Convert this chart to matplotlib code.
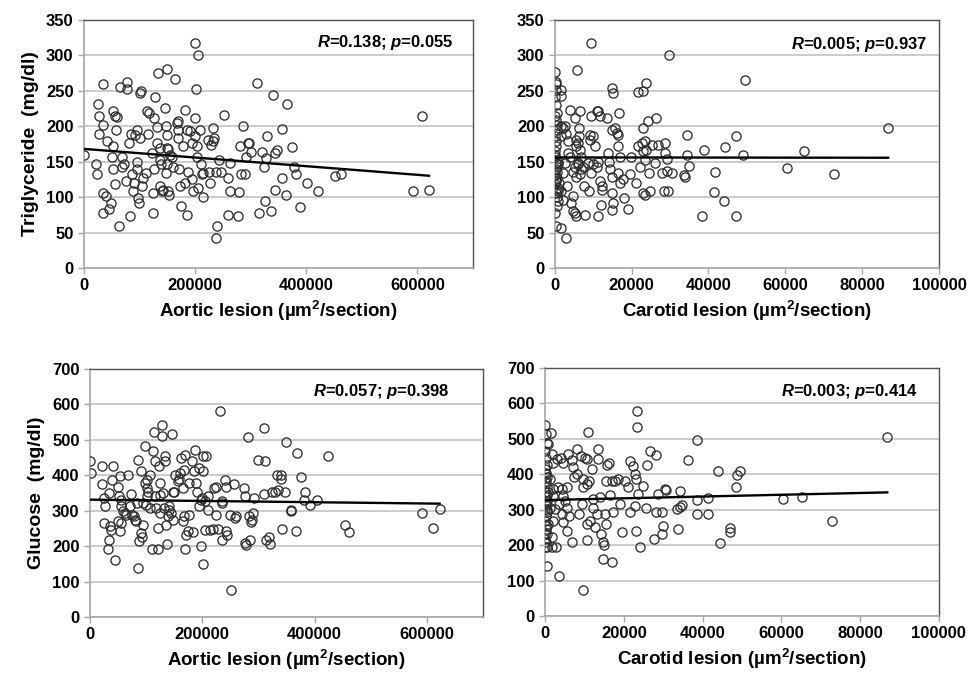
import numpy as np
import matplotlib
matplotlib.use("Agg")
import matplotlib.pyplot as plt

plt.rcParams["font.family"] = ["Liberation Sans", "DejaVu Sans"]
plt.rcParams["font.weight"] = "bold"
plt.rcParams["mathtext.fontset"] = "custom"
plt.rcParams["mathtext.rm"] = "Liberation Sans:bold"
plt.rcParams["mathtext.bf"] = "Liberation Sans:bold"
plt.rcParams["mathtext.it"] = "Liberation Sans:italic:bold"

# Triglyceride vs aortic lesion (x in 1000 um2/section)
tg_aortic_x = [0, 21.6, 24, 25.8, 27.6, 33.6, 34.8, 27, 40.8, 33.6, 39, 33.6, 45.6, 48, 51.6, 49.8, 52.8,
               51.6, 55.8, 60, 57.6, 63.6, 55.8, 64.8, 67.8, 67.8, 72, 75.6, 76.8, 78, 81.6, 82.8, 84, 85.8,
               88.8, 90, 94.8, 94.8, 97.8, 99.6, 100.8, 102, 91.8, 96, 100.8, 103.8, 106.8, 111.6, 114, 117.6,
               115.8, 121.8, 124.2, 124.2, 126.6, 128.4, 125.4, 130.8, 132, 133.8, 136.8, 136.8, 138, 136.8,
               139.8, 142.8, 145.8, 147.6, 148.8, 148.8, 150, 147.6, 150, 151.8, 153.6, 151.8, 154.8, 157.8,
               160.8, 163.8, 166.8, 169.8, 169.8, 169.8, 171.6, 172.8, 174, 178.8, 181.8, 181.8, 184.8, 186,
               187.8, 190.8, 193.8, 193.8, 196.8, 199.8, 199.8, 199.8, 201.6, 202.8, 205.8, 204, 205.8, 208.8,
               210, 211.8, 213.6, 214.8, 223.2, 225.6, 226.8, 228.6, 231.6, 232.8, 234.6, 237.6, 238.8, 237.6,
               243.6, 246.6, 252.6, 258.6, 258.6, 262.8, 262.8, 277.2, 279, 280.8, 285.6, 283.2, 289.2, 292.2,
               295.2, 297, 301.2, 312, 315.6, 319.8, 324, 325.8, 330, 336, 339.6, 343.8, 343.8, 365.8, 355.6,
               347.8, 374.8, 328, 378.4, 382, 356.8, 364, 401.8, 421.6, 388, 451.6, 461.8, 609, 592.2, 621]
tg_aortic_y = [160, 147, 132, 231, 215, 259, 202, 189, 179, 106, 102, 77, 83, 91, 172, 157, 140,
               222, 214, 213, 195, 59, 118, 256, 157, 143, 146, 122, 263, 252, 177, 73, 189, 132,
               108, 120, 150, 140, 99, 92, 247, 249, 188, 195, 183, 115, 127, 134, 221, 219,
               189, 162, 77, 106, 139, 241, 212, 176, 199, 275, 169, 153, 146, 115,
               108, 110, 226, 200, 187, 169, 280, 134, 146, 108, 103, 168, 160, 157,
               143, 266, 204, 207, 195, 183, 139, 115, 88, 172, 223, 120, 195, 75,
               135, 193, 176, 125, 108, 212, 317, 186, 252, 172, 301, 157, 113, 195,
               146, 133, 100, 134, 181, 135, 120, 174, 197, 179, 183, 135, 59, 42,
               153, 136, 216, 127, 75, 148, 108, 73, 107, 172, 200, 132, 133, 157,
               177, 176, 164, 261, 78, 164, 143, 94, 186, 80, 244, 110, 162, 232, 196,
               166, 171, 155, 143, 133, 127, 103, 120, 108, 86, 130, 133, 214, 108, 110]

# Triglyceride vs carotid lesion (x in 1000 um2/section)
tg_carotid_x = [0, 0.2, 0.4, 0.1, 0.3, 0.5, 0, 0.2, 0.6, 0.1, 0.4, 0, 0.3, 0.5, 0.2, 0, 0.6, 0.3, 0.1,
                0.4, 0.8, 0.2, 0.5, 0, 0.3, 0.7, 0.1, 0.4, 0.6, 0.2, 0.9, 0.3, 0.6, 0.8, 0.1, 0.5, 0.7, 1.0,
                1.7, 1.7, 1.7, 3.0, 1.5, 2.2, 2.6, 1.7, 3.0, 3.9, 3.5, 3.5, 2.6, 3.9, 2.2, 3.2, 1.7, 2.2,
                4.8, 4.3, 4.6, 5.2, 5.5, 5.8, 5.2, 6.5, 6.3, 5.5, 6.1, 6.5, 6.3, 5.6, 5.2, 6.1, 4.8, 5.6,
                6.5, 6.9, 7.4, 6.9, 6.1, 7.6, 7.8, 8.9, 9.3, 9.5, 9.1, 9.1, 10.0, 8.7, 9.5, 10.0, 10.4,
                10.9, 11.3, 11.7, 10.9, 11.3, 11.7, 12.2, 12.4, 11.9, 11.3, 13.5, 13.9, 14.2, 14.3, 14.8,
                14.8, 15.2, 15.0, 14.8, 15.2, 15.0, 15.6, 16.1, 16.5, 16.8, 16.5, 16.9, 16.5, 16.9, 17.8,
                18.0, 19.1, 19.5, 19.9, 21.1, 21.7, 23.0, 23.7, 23.0, 24.3, 26.3, 21.7, 22.6, 23.4, 23.0,
                23.8, 22.1, 23.4, 24.6, 23.0, 23.4, 24.7, 25.2, 26.1, 26.9, 28.7, 27.8, 28.7,
                29.8, 49.5, 86.8, 29.2, 34.5, 34.5, 34.9, 33.6, 33.8, 30.6, 29.3, 28.4, 29.5, 38.8, 41.6,
                41.4, 44.0, 38.4, 47.1, 44.3, 47.1, 49.0, 60.4, 64.9, 72.8]
tg_carotid_y = [276, 263, 259, 241, 230, 219, 215, 209, 194, 186, 172, 157, 148, 143, 139, 132, 127, 122, 118,
                110, 108, 106, 87, 77, 59, 146, 160, 179, 202, 251, 113, 125, 135, 150, 165, 100, 95, 120,
                251, 243, 56, 42, 200, 197, 200, 186, 189, 223, 179, 162, 148, 157, 134, 116, 108, 96,
                101, 92, 80, 78, 74, 279, 212, 221, 197, 181, 176, 167, 186, 172, 143, 148, 136, 129,
                132, 139, 143, 157, 146, 115, 75, 108, 317, 214, 181, 188, 186, 148, 134, 146, 172,
                221, 221, 215, 143, 150, 122, 115, 110, 89, 73, 212, 162, 150, 139, 129,
                106, 92, 82, 254, 247, 195, 197, 190, 188, 219, 172, 157, 134, 120, 125,
                99, 83, 132, 157, 120, 248, 249, 261, 197, 207, 212, 172, 176, 179, 165,
                167, 143, 153, 134, 106, 103, 108, 174, 148, 174, 176, 134, 162,
                300, 265, 197, 154, 188, 159, 144, 131, 128, 134, 137, 109, 109, 166, 136,
                107, 95, 73, 73, 171, 186, 160, 141, 165, 132]

# Glucose vs aortic lesion (x in 1000 um2/section)
glu_aortic_x = [0, 1.2, 20.6, 20.6, 24.8, 26.5, 24.8, 34.2, 32.5, 35.4, 36.6, 40.1, 38.3, 34.2, 44.3, 50.2,
                51.9, 53.1, 54.3, 56, 56, 50.2, 56, 59, 62, 64.9, 67.9, 70.8, 73.8, 75.5, 77.9, 79.7, 81.4,
                84, 85.6, 85.6, 87.3, 90.1, 90.1, 93.2, 94.4, 94.4, 97.4, 97.4, 99.1, 101.5, 101.5, 103.3,
                101.5, 106.2, 107.4, 110.9, 112.1, 113.3, 115.1, 115.1, 118, 120.9, 120.9, 122.7, 123.9,
                123.9, 125.1, 127.5, 127.5, 129.8, 131, 133.7, 134.5, 135.7, 136.9, 138.7, 140.4, 141.6,
                144.6, 146.3, 147.5, 148.7, 150.4, 152.2, 156.4, 158.2, 160.5, 162.3, 165.2, 166.4, 168.2,
                168.2, 170.1, 170.1, 171.1, 173.9, 175.8, 177, 181.7, 184.1, 185.9, 187.9, 189.1, 190.3,
                193.5, 194.7, 197.7, 199.4, 197.7, 200.6, 200.6, 201.8, 205.3, 205.3, 207.4, 209.5, 209.5,
                213.6, 218.3, 221.2, 224.2, 225.3, 228.8, 231.6, 234.6, 235.8, 235.8, 240.5, 241.9, 241.9,
                244.9, 249, 250.7, 256.6, 259.6, 258.4, 274.3, 276.1, 277.3, 276.1, 282.2, 283.3, 284.5,
                286.2, 287.9, 290.3, 292, 299.7, 309.7, 311.5, 309.7, 313.9, 319.9, 318.8, 324.5, 330.4,
                333.4, 349.8, 369.3, 423.6, 341, 341, 376.4, 335.1, 346.9, 383.5, 381.1, 391.1, 404.7,
                357.5, 358.7, 454.3, 462, 342.2, 367.5, 591.8, 623, 611.2]
glu_aortic_y = [439, 406, 425, 376, 336, 312, 265, 218, 192, 256, 246, 427, 387, 350, 162, 270,
                340, 397, 242, 265, 331, 368, 312, 298, 293, 289, 401, 312, 348, 289, 284, 274, 270,
                321, 444, 138, 213, 411, 237, 227, 260, 321, 483, 378, 317, 387, 364, 354,
                340, 307, 401, 192, 467, 521, 439, 340, 307, 251, 192, 425, 345,
                293, 378, 542, 511, 350, 307, 439, 453, 260, 207, 284, 303, 312,
                293, 517, 354, 274, 354, 401, 383, 390, 406, 448, 364, 270, 415,
                284, 458, 192, 232, 242, 378, 289, 439, 239, 411, 472, 378, 354,
                312, 420, 331, 336, 199, 150, 453, 411, 326, 246, 455, 303, 340,
                246, 248, 364, 368, 289, 248, 580, 326, 321, 218, 387, 368, 242,
                232, 289, 77, 376, 284, 279, 364, 209, 204, 342, 508, 286, 218,
                267, 274, 293, 336, 442, 533, 439, 348, 218, 207, 227, 354, 354,
                401, 495, 462, 455, 401, 389, 395, 359, 352, 354, 329, 317, 331,
                301, 298, 260, 239, 248, 243, 293, 305, 251]

# Glucose vs carotid lesion (x in 1000 um2/section)
glu_carotid_x = [0, 0.2, 0.4, 0.1, 0.3, 0.5, 0, 0.2, 0.6, 0.1, 0.4, 0, 0.3, 0.5, 0.2, 0, 0.6, 0.3, 0.1,
                 0.4, 0.2, 0.5, 0, 0.3, 0.1, 0.4, 0.6, 0.2, 0.5, 0.3, 0.7, 0.1, 0.4, 0.8, 0.2,
                 1.4, 0.85, 1.7, 2.1, 1.3, 2.0, 2.1, 1.3, 2.5, 2.1, 1.7, 2.8, 1.7, 3.6, 3.1, 4.0, 4.5, 3.4,
                 4.2, 4.65, 3.64, 5.1, 5.5, 4.2, 4.65, 5.7, 6.2, 5.5, 5.9, 6.8, 7.0, 7.4, 6.8, 8.2, 9.1, 8.2,
                 8.7, 9.5, 9.6, 9.7, 10.2, 10.7, 10.6, 11.2, 11.0, 9.6, 10.6, 10.7, 11.4, 12.0, 12.3, 12.3,
                 12.7, 13.1, 13.5, 13.5, 14.0, 14.1, 14.6, 14.8, 15.0, 15.2, 15.5, 15.5, 15.8, 16.3, 16.5,
                 16.9, 16.9, 17.3, 17.8, 18.4, 19.0, 19.5, 20.3, 21.1, 21.6, 21.6, 22.4, 22.8, 23.1, 23.1,
                 23.4, 23.4, 22.8, 23.7, 24.1, 24.9, 25.6, 25.9, 26.6, 28.3, 28.2, 28.8, 29.6, 29.9, 29.6,
                 27.7, 30.5, 38.7, 36.4, 86.9, 44.0, 49.5, 48.8, 48.5, 30.7, 34.3, 38.7, 41.5, 33.6, 34.9,
                 34.3, 38.5, 41.5, 33.8, 46.9, 46.9, 44.4, 60.5, 65.3, 72.8]
glu_carotid_y = [539, 514, 489, 466, 445, 426, 414, 402, 391, 377, 363, 349, 335, 325, 314, 302, 292, 283, 269,
                 255, 245, 231, 217, 208, 194, 140, 300, 320, 340, 380, 260, 230, 195, 350, 400,
                 517, 484, 456, 433, 386, 358, 339, 306, 302, 269, 222, 194, 194, 114, 442, 447, 433, 363,
                 358, 339, 316, 325, 363, 288, 264, 241, 283, 306, 456, 439, 419, 391, 208, 470, 452, 400,
                 288, 316, 363, 386, 447, 442, 372, 382, 520, 74, 260, 213, 269, 414, 330, 306,
                 250, 288, 470, 442, 335, 231, 161, 208, 199, 288, 260, 382, 426, 433, 342,
                 152, 382, 292, 382, 386, 316, 236, 382, 363, 438, 292, 424, 400, 386, 241,
                 578, 533, 311, 344, 194, 367, 306, 426, 466, 454, 292, 344, 292, 255, 231,
                 217, 358, 497, 440, 504, 408, 410, 399, 365, 356, 352, 326, 334, 303, 312,
                 307, 287, 289, 246, 249, 237, 206, 331, 335, 268]

# trend lines: (value at x=0, slope per um2/section)
tg_aortic_fit = (168.0, -6.1e-5)
tg_carotid_fit = (156.0, -6e-6)
glu_aortic_fit = (331.0, -1.8e-5)
glu_carotid_fit = (327.0, 2.5e-4)

stats_text = ["$R$=0.138; $p$=0.055", "$R$=0.005; $p$=0.937",
              "$R$=0.057; $p$=0.398", "$R$=0.003; $p$=0.414"]

aortic_ticks = [0, 200000, 400000, 600000]
carotid_ticks = [0, 20000, 40000, 60000, 80000, 100000]

fig = plt.figure(figsize=(9.7, 6.76), dpi=100)

panels = [
    # rect, x, y, fit, xlim, xticks, ylim, ystep, xlabel, ylabel, text pos
    ([0.0866, 0.6036, 0.401, 0.367], tg_aortic_x, tg_aortic_y, tg_aortic_fit, 700000, aortic_ticks,
     350, 50, "Aortic lesion (µm$^2$/section)", "Triglyceride  (mg/dl)", (0.949, 0.91)),
    ([0.572, 0.6036, 0.396, 0.367], tg_carotid_x, tg_carotid_y, tg_carotid_fit, 100000, carotid_ticks,
     350, 50, "Carotid lesion (µm$^2$/section)", None, (0.969, 0.90)),
    ([0.0928, 0.0873, 0.405, 0.367], glu_aortic_x, glu_aortic_y, glu_aortic_fit, 700000, aortic_ticks,
     700, 100, "Aortic lesion (µm$^2$/section)", "Glucose  (mg/dl)", (0.916, 0.907)),
    ([0.5619, 0.0888, 0.406, 0.367], glu_carotid_x, glu_carotid_y, glu_carotid_fit, 100000, carotid_ticks,
     700, 100, "Carotid lesion (µm$^2$/section)", None, (0.947, 0.906)),
]

for k, (rect, xs, ys, fit, xmax, xt, ymax, ystep, xlab, ylab, tpos) in enumerate(panels):
    ax = fig.add_axes(rect)
    x = np.array(xs) * 1000
    y = np.array(ys)
    ax.plot(x, y, "o", ms=6.6, mfc="none", mec="#2e2e2e", mew=0.95, zorder=3)
    xl = np.array([x.min(), x.max()])
    ax.plot(xl, fit[0] + fit[1] * xl, color="black", lw=1.7, zorder=4)

    ax.set_xlim(0, xmax)
    ax.set_ylim(0, ymax)
    ax.set_xticks(xt)
    ax.set_yticks(np.arange(0, ymax + 1, ystep))
    ax.yaxis.grid(True, color="#bdbdbd", lw=1.1)
    ax.set_axisbelow(True)
    for side in ["left", "bottom"]:
        ax.spines[side].set_color("#a6a6a6")
        ax.spines[side].set_linewidth(1.2)
    for side in ["top", "right"]:
        ax.spines[side].set_color("#505050")
        ax.spines[side].set_linewidth(1.0)
    ax.tick_params(axis="both", colors="#a6a6a6", labelcolor="black", labelsize=12, length=4, width=1)
    for lab in ax.get_xticklabels() + ax.get_yticklabels():
        lab.set_fontweight("bold")

    ax.set_xlabel(xlab, fontsize=13.5, fontweight="bold", labelpad=4)
    if ylab:
        ax.set_ylabel(ylab, fontsize=14, fontweight="bold", labelpad=5)
    ax.text(tpos[0], tpos[1], stats_text[k], transform=ax.transAxes, ha="right", va="center",
            fontsize=12, fontweight="bold")

fig.savefig("out.png", dpi=100)
